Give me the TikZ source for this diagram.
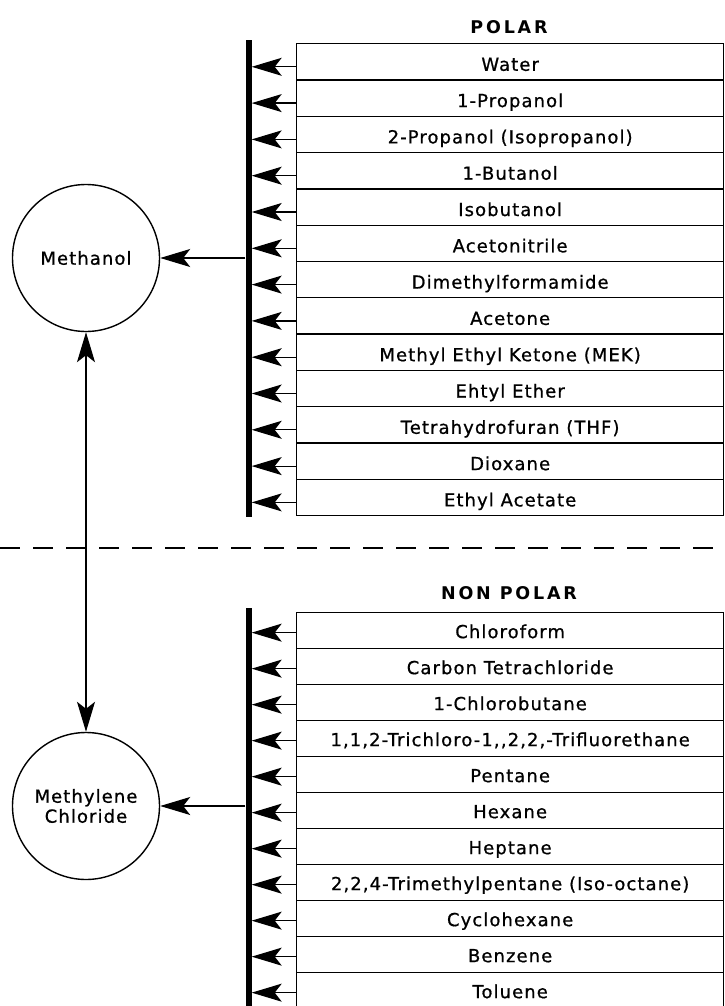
\documentclass[tikz,border=0pt]{standalone}
\usepackage{fontspec}
\newfontfamily\labfont{DejaVu Sans}[LetterSpace=6,FakeBold=0.8]
\newfontfamily\hdrfont{DejaVu Sans Bold}[LetterSpace=16]
\usetikzlibrary{arrows.meta}
\begin{document}
\begin{tikzpicture}[x=1pt,y=-1pt,
  txt/.style={font=\labfont\fontsize{18}{20}\selectfont},
  rowbox/.style={draw, line width=1.3pt, minimum width=427pt, minimum height=36.3pt,
    inner sep=0pt, anchor=north west, txt, text height=18pt, text depth=0pt},
  rowboxb/.style={rowbox, minimum height=36pt, text height=15pt},
  hdr/.style={font=\hdrfont\fontsize{17.5}{19}\selectfont},
  bar/.style={fill=black, draw=none, minimum width=6pt, inner sep=0pt, anchor=north},
  arr/.style={line width=1.2pt, -{Stealth[length=30pt,width=18pt,inset=7pt]}},
  darr/.style={line width=1.2pt, {Stealth[length=30pt,width=18pt,inset=7pt]}-{Stealth[length=30pt,width=18pt,inset=7pt]}},
  solv/.style={circle, draw, line width=1.4pt, minimum size=147pt, inner sep=0pt, txt, align=center},
  sep/.style={line width=1.3pt, dash pattern=on 20pt off 13pt}
]
\useasboundingbox (0,0) rectangle (724,1006);

% headers
\node[hdr] (polar) at (509,27) {POLAR};
\node[hdr] (nonpolar) at (509,593) {NON POLAR};

% bars
\node[bar, minimum height=477pt] (pbar) at (248.5,40) {};
\node[bar, minimum height=402pt] (nbar) at (248.5,608) {};

% polar solvents
\foreach \t [count=\i from 0] in {Water, 1-Propanol, 2-Propanol (Isopropanol), 1-Butanol,
  Isobutanol, Acetonitrile, Dimethylformamide, Acetone, Methyl Ethyl Ketone (MEK),
  Ehtyl Ether, Tetrahydrofuran (THF), Dioxane, Ethyl Acetate}{
  \node[rowbox] (p\i) at (296,{43+\i*36.3}) {\t};
  \draw[arr] ([yshift=-5pt]p\i.west) -- ([yshift=-5pt]p\i.west -| pbar.east);
}

% non polar solvents
\foreach \t [count=\i from 0] in {Chloroform, Carbon Tetrachloride, 1-Chlorobutane,
  {1,1,2-Trichloro-1,\kern1.3pt,2,2,-Trifluorethane}, Pentane, Hexane, Heptane,
  {2,2,4-Trimethylpentane (Iso-octane)}, Cyclohexane, Benzene, Toluene}{
  \node[rowboxb] (n\i) at (296,{612+\i*36}) {\t};
  \draw[arr] ([yshift=-2pt]n\i.west) -- ([yshift=-2pt]n\i.west -| nbar.east);
}

% main solvents
\node[solv] (meth) at (86,258) {Methanol};
\node[solv] (mc) at (86,806) {Methylene\\Chloride};

\draw[arr] (pbar.west |- meth) -- (meth);
\draw[arr] (nbar.west |- mc) -- (mc);
\draw[darr] (meth) -- (mc);

% separator
\coordinate (sl) at (0,548);
\coordinate (sr) at (724,548);
\draw[sep] (sl) -- (sr);
\end{tikzpicture}
\end{document}
